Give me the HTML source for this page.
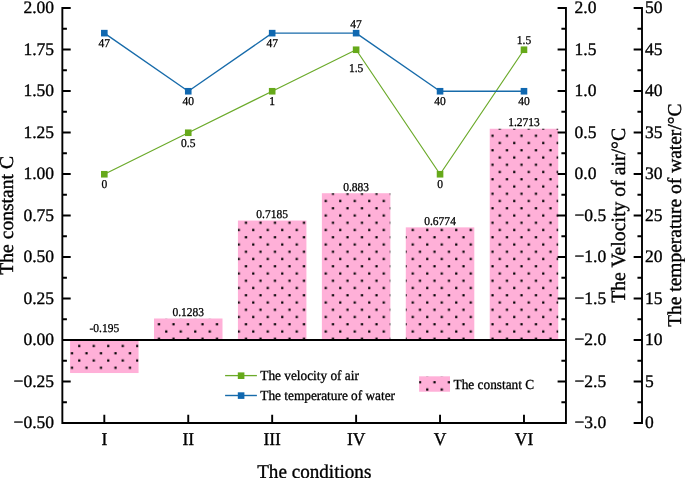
<!DOCTYPE html><html><head><meta charset="utf-8"><style>
html,body{margin:0;padding:0;background:#fff;width:685px;height:478px;overflow:hidden}svg{will-change:transform}
svg{display:block}text{font-family:"Liberation Serif",serif;fill:#000;stroke:#000;stroke-width:0.35px;paint-order:stroke;text-rendering:geometricPrecision}text.d{stroke-width:0.28px}text.l{stroke-width:0.3px}
</style></head><body>
<svg width="685" height="478" viewBox="0 0 685 478">
<defs><pattern id="dots" patternUnits="userSpaceOnUse" x="68.38" y="342.38" width="14.5" height="14.5">
<rect width="14.5" height="14.5" fill="#FFB0D8"/>
<rect x="9.78" y="2.52" width="2.2" height="2.2" fill="#000"/>
<rect x="2.52" y="9.78" width="2.2" height="2.2" fill="#000"/>
</pattern></defs>
<rect x="70.07" y="340.05" width="68.5" height="32.97" fill="url(#dots)"/>
<rect x="154" y="318.5" width="68.5" height="21.55" fill="url(#dots)"/>
<rect x="237.93" y="220.53" width="68.5" height="119.52" fill="url(#dots)"/>
<rect x="321.87" y="193.22" width="68.5" height="146.83" fill="url(#dots)"/>
<rect x="405.8" y="227.35" width="68.5" height="112.7" fill="url(#dots)"/>
<rect x="489.73" y="128.76" width="68.5" height="211.29" fill="url(#dots)"/>
<line x1="62.35" y1="340.05" x2="565.95" y2="340.05" stroke="#000" stroke-width="1.9"/>
<path d="M62.35 8.05V423.05H565.95V8.05M642 8.05V423.05M62.35 423.05h7.4M62.35 402.3h3.6M62.35 381.55h7.4M62.35 360.8h3.6M62.35 340.05h7.4M62.35 319.3h3.6M62.35 298.55h7.4M62.35 277.8h3.6M62.35 257.05h7.4M62.35 236.3h3.6M62.35 215.55h7.4M62.35 194.8h3.6M62.35 174.05h7.4M62.35 153.3h3.6M62.35 132.55h7.4M62.35 111.8h3.6M62.35 91.05h7.4M62.35 70.3h3.6M62.35 49.55h7.4M62.35 28.8h3.6M62.35 8.05h7.4M565.95 423.05h-7.4M565.95 402.3h-3.6M565.95 381.55h-7.4M565.95 360.8h-3.6M565.95 340.05h-7.4M565.95 319.3h-3.6M565.95 298.55h-7.4M565.95 277.8h-3.6M565.95 257.05h-7.4M565.95 236.3h-3.6M565.95 215.55h-7.4M565.95 194.8h-3.6M565.95 174.05h-7.4M565.95 153.3h-3.6M565.95 132.55h-7.4M565.95 111.8h-3.6M565.95 91.05h-7.4M565.95 70.3h-3.6M565.95 49.55h-7.4M565.95 28.8h-3.6M565.95 8.05h-7.4M642 423.05h-7.4M642 402.3h-3.6M642 381.55h-7.4M642 360.8h-3.6M642 340.05h-7.4M642 319.3h-3.6M642 298.55h-7.4M642 277.8h-3.6M642 257.05h-7.4M642 236.3h-3.6M642 215.55h-7.4M642 194.8h-3.6M642 174.05h-7.4M642 153.3h-3.6M642 132.55h-7.4M642 111.8h-3.6M642 91.05h-7.4M642 70.3h-3.6M642 49.55h-7.4M642 28.8h-3.6M642 8.05h-7.4M104.32 423.05v-7.4M188.25 423.05v-7.4M272.18 423.05v-7.4M356.12 423.05v-7.4M440.05 423.05v-7.4M523.98 423.05v-7.4" fill="none" stroke="#000" stroke-width="1.9" stroke-linecap="square"/>
<text transform="translate(54.1 428.35)" font-size="17.5" text-anchor="end">−0.50</text>
<text transform="translate(54.1 386.85)" font-size="17.5" text-anchor="end">−0.25</text>
<text transform="translate(54.1 345.35)" font-size="17.5" text-anchor="end">0.00</text>
<text transform="translate(54.1 303.85)" font-size="17.5" text-anchor="end">0.25</text>
<text transform="translate(54.1 262.35)" font-size="17.5" text-anchor="end">0.50</text>
<text transform="translate(54.1 220.85)" font-size="17.5" text-anchor="end">0.75</text>
<text transform="translate(54.1 179.35)" font-size="17.5" text-anchor="end">1.00</text>
<text transform="translate(54.1 137.85)" font-size="17.5" text-anchor="end">1.25</text>
<text transform="translate(54.1 96.35)" font-size="17.5" text-anchor="end">1.50</text>
<text transform="translate(54.1 54.85)" font-size="17.5" text-anchor="end">1.75</text>
<text transform="translate(54.1 13.35)" font-size="17.5" text-anchor="end">2.00</text>
<text transform="translate(574.5 428.35)" font-size="17.5">−3.0</text>
<text transform="translate(574.5 386.85)" font-size="17.5">−2.5</text>
<text transform="translate(574.5 345.35)" font-size="17.5">−2.0</text>
<text transform="translate(574.5 303.85)" font-size="17.5">−1.5</text>
<text transform="translate(574.5 262.35)" font-size="17.5">−1.0</text>
<text transform="translate(574.5 220.85)" font-size="17.5">−0.5</text>
<text transform="translate(574.5 179.35)" font-size="17.5">0.0</text>
<text transform="translate(574.5 137.85)" font-size="17.5">0.5</text>
<text transform="translate(574.5 96.35)" font-size="17.5">1.0</text>
<text transform="translate(574.5 54.85)" font-size="17.5">1.5</text>
<text transform="translate(574.5 13.35)" font-size="17.5">2.0</text>
<text transform="translate(645 428.35)" font-size="17.5">0</text>
<text transform="translate(645 386.85)" font-size="17.5">5</text>
<text transform="translate(645 345.35)" font-size="17.5">10</text>
<text transform="translate(645 303.85)" font-size="17.5">15</text>
<text transform="translate(645 262.35)" font-size="17.5">20</text>
<text transform="translate(645 220.85)" font-size="17.5">25</text>
<text transform="translate(645 179.35)" font-size="17.5">30</text>
<text transform="translate(645 137.85)" font-size="17.5">35</text>
<text transform="translate(645 96.35)" font-size="17.5">40</text>
<text transform="translate(645 54.85)" font-size="17.5">45</text>
<text transform="translate(645 13.35)" font-size="17.5">50</text>
<text transform="translate(104.32 445.4) scale(1.000 1.030)" font-size="17.5" text-anchor="middle">I</text>
<text transform="translate(188.25 445.4) scale(1.000 1.030)" font-size="17.5" text-anchor="middle">II</text>
<text transform="translate(272.18 445.4) scale(1.000 1.030)" font-size="17.5" text-anchor="middle">III</text>
<text transform="translate(356.12 445.4) scale(1.000 1.030)" font-size="17.5" text-anchor="middle">IV</text>
<text transform="translate(440.05 445.4) scale(1.000 1.030)" font-size="17.5" text-anchor="middle">V</text>
<text transform="translate(523.98 445.4) scale(1.000 1.030)" font-size="17.5" text-anchor="middle">VI</text>
<text transform="translate(314.25 477.6) scale(0.976 1.000)" font-size="19.6" text-anchor="middle">The conditions</text>
<text transform="translate(12.8 215.35) rotate(-90)" font-size="19.6" text-anchor="middle">The constant C</text>
<text transform="translate(624.5 215.35) rotate(-90) scale(1.009 1.030)" font-size="19.6" text-anchor="middle">The Velocity of air/°C</text>
<text transform="translate(681.2 215.15) rotate(-90) scale(0.993 1.000)" font-size="19.6" text-anchor="middle">The temperature of water/°C</text>
<polyline points="104.32,174.25 188.25,132.75 272.18,91.25 356.12,49.75 440.05,174.25 523.98,49.75" fill="none" stroke="#6BAA2A" stroke-width="1.2" stroke-linejoin="round"/>
<rect x="101.02" y="170.95" width="6.6" height="6.6" fill="#66A91A"/>
<rect x="184.95" y="129.45" width="6.6" height="6.6" fill="#66A91A"/>
<rect x="268.88" y="87.95" width="6.6" height="6.6" fill="#66A91A"/>
<rect x="352.82" y="46.45" width="6.6" height="6.6" fill="#66A91A"/>
<rect x="436.75" y="170.95" width="6.6" height="6.6" fill="#66A91A"/>
<rect x="520.68" y="46.45" width="6.6" height="6.6" fill="#66A91A"/>
<polyline points="104.32,33.15 188.25,91.25 272.18,33.15 356.12,33.15 440.05,91.25 523.98,91.25" fill="none" stroke="#176BAA" stroke-width="1.35" stroke-linejoin="round"/>
<rect x="101.02" y="29.85" width="6.6" height="6.6" fill="#1068B0"/>
<rect x="184.95" y="87.95" width="6.6" height="6.6" fill="#1068B0"/>
<rect x="268.88" y="29.85" width="6.6" height="6.6" fill="#1068B0"/>
<rect x="352.82" y="29.85" width="6.6" height="6.6" fill="#1068B0"/>
<rect x="436.75" y="87.95" width="6.6" height="6.6" fill="#1068B0"/>
<rect x="520.68" y="87.95" width="6.6" height="6.6" fill="#1068B0"/>
<text transform="translate(104.32 188.29) scale(0.960 1.000)" font-size="12" text-anchor="middle" class="d">0</text>
<text transform="translate(104.32 47.19) scale(0.960 1.000)" font-size="12" text-anchor="middle" class="d">47</text>
<text transform="translate(188.25 146.79) scale(0.960 1.000)" font-size="12" text-anchor="middle" class="d">0.5</text>
<text transform="translate(188.25 105.29) scale(0.960 1.000)" font-size="12" text-anchor="middle" class="d">40</text>
<text transform="translate(272.18 105.29) scale(0.960 1.000)" font-size="12" text-anchor="middle" class="d">1</text>
<text transform="translate(272.18 47.19) scale(0.960 1.000)" font-size="12" text-anchor="middle" class="d">47</text>
<text transform="translate(356.12 71.79) scale(0.960 1.000)" font-size="12" text-anchor="middle" class="d">1.5</text>
<text transform="translate(356.12 27.69) scale(0.960 1.000)" font-size="12" text-anchor="middle" class="d">47</text>
<text transform="translate(440.05 188.29) scale(0.960 1.000)" font-size="12" text-anchor="middle" class="d">0</text>
<text transform="translate(440.05 105.29) scale(0.960 1.000)" font-size="12" text-anchor="middle" class="d">40</text>
<text transform="translate(523.98 43.79) scale(0.960 1.000)" font-size="12" text-anchor="middle" class="d">1.5</text>
<text transform="translate(523.98 105.29) scale(0.960 1.000)" font-size="12" text-anchor="middle" class="d">40</text>
<text transform="translate(104.32 332.3) scale(0.960 1.000)" font-size="12" text-anchor="middle" class="d">-0.195</text>
<text transform="translate(188.25 316.05) scale(0.960 1.000)" font-size="12" text-anchor="middle" class="d">0.1283</text>
<text transform="translate(272.18 218.08) scale(0.960 1.000)" font-size="12" text-anchor="middle" class="d">0.7185</text>
<text transform="translate(356.12 190.77) scale(0.960 1.000)" font-size="12" text-anchor="middle" class="d">0.883</text>
<text transform="translate(440.05 224.9) scale(0.960 1.000)" font-size="12" text-anchor="middle" class="d">0.6774</text>
<text transform="translate(523.98 126.31) scale(0.960 1.000)" font-size="12" text-anchor="middle" class="d">1.2713</text>
<line x1="225.1" y1="375.6" x2="256.9" y2="375.6" stroke="#6BAA2A" stroke-width="1.3"/>
<rect x="237.8" y="372.4" width="6.6" height="6.6" fill="#66A91A"/>
<line x1="225.1" y1="395.5" x2="256.9" y2="395.5" stroke="#176BAA" stroke-width="1.4"/>
<rect x="237.8" y="392.3" width="6.6" height="6.6" fill="#1068B0"/>
<text transform="translate(260.3 379.8) scale(1.000 1.040)" font-size="13.3" class="l">The velocity of air</text>
<text transform="translate(260.3 399.5) scale(1.000 1.040)" font-size="13.3" class="l">The temperature of water</text>
<rect x="419.1" y="376.3" width="30.9" height="15.45" fill="url(#dots)"/>
<text transform="translate(453.6 388.8) scale(1.000 1.040)" font-size="13.3" class="l">The constant C</text>
</svg></body></html>
